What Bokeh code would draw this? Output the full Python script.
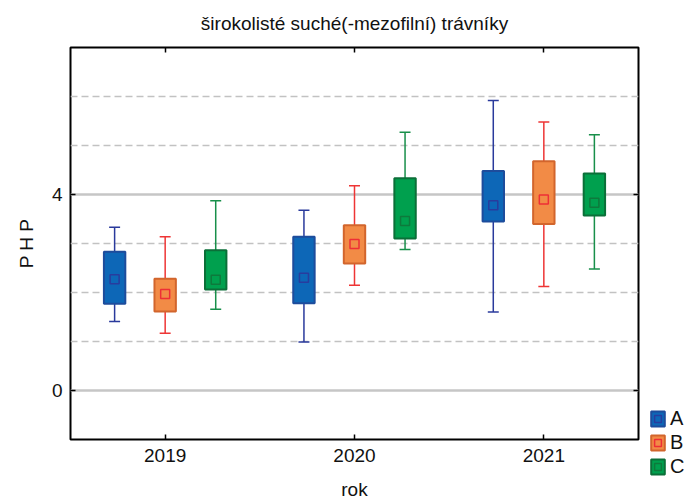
from bokeh.embed import file_html
from bokeh.layouts import row
from bokeh.models import (CategoricalAxis, ColumnDataSource, FactorRange, FixedTicker, Grid,
                          Legend, LegendItem, LinearAxis, Range1d, Title)
from bokeh.plotting import figure
from bokeh.resources import INLINE
from bokeh.transform import dodge

# --- data -----------------------------------------------------------------
years = ["2019", "2020", "2021"]
groups = ["A", "B", "C"]
y_ticks = [0, 4]
y_dashed = [1, 2, 3, 5, 6]

A_mean = [2.27, 2.30, 3.78]
A_box_low = [1.77, 1.78, 3.45]
A_box_high = [2.83, 3.14, 4.48]
A_whisk_low = [1.41, 0.99, 1.60]
A_whisk_high = [3.33, 3.68, 5.92]

B_mean = [1.97, 2.99, 3.90]
B_box_low = [1.61, 2.59, 3.40]
B_box_high = [2.28, 3.37, 4.68]
B_whisk_low = [1.17, 2.15, 2.12]
B_whisk_high = [3.14, 4.18, 5.48]

C_mean = [2.26, 3.46, 3.83]
C_box_low = [2.06, 3.10, 3.57]
C_box_high = [2.86, 4.33, 4.43]
C_whisk_low = [1.66, 2.88, 2.48]
C_whisk_high = [3.87, 5.27, 5.22]

series = {
    "A": (A_mean, A_box_low, A_box_high, A_whisk_low, A_whisk_high),
    "B": (B_mean, B_box_low, B_box_high, B_whisk_low, B_whisk_high),
    "C": (C_mean, C_box_low, C_box_high, C_whisk_low, C_whisk_high),
}

# --- styling --------------------------------------------------------------
FONT = "Liberation Sans"
TEXT = "#111111"
styles = {
    "A": dict(fill="#0d67b7", edge="#1d4c9c", whisk="#2a3a9c", mark="#283c9e"),
    "B": dict(fill="#f28b46", edge="#d2652c", whisk="#ee3535", mark="#ee2f36"),
    "C": dict(fill="#00a04e", edge="#0b6f38", whisk="#188f4a", mark="#0d7a3c"),
}
offsets = {"A": -0.267, "B": 0.0, "C": 0.267}
BOX_W = 0.113
CAP_W = 0.058

p = figure(width=647, height=502,
           x_range=FactorRange(factors=years), y_range=Range1d(-1, 7),
           output_backend="svg", toolbar_location=None,
           min_border_left=70, min_border_right=9, min_border_top=47, min_border_bottom=63,
           background_fill_color="white", border_fill_color="white")

p.title = Title(text="širokolisté suché(-mezofilní) trávníky", align="center",
                text_font=FONT, text_font_size="19px", text_font_style="normal",
                text_color=TEXT, standoff=20)

p.outline_line_color = "black"
p.outline_line_width = 2

# grid: solid lines at labelled ticks, dashed lines in between
p.xgrid.visible = False
p.ygrid.ticker = FixedTicker(ticks=y_ticks)
p.ygrid.grid_line_color = "#c6c6c6"
p.ygrid.grid_line_width = 2.5
p.add_layout(Grid(dimension=1, ticker=FixedTicker(ticks=y_dashed),
                  grid_line_color="#c2c2c2", grid_line_width=1.5, grid_line_dash="7 4"))


def style_axis(ax, labels=True):
    ax.axis_line_color = None
    ax.major_tick_in = 5
    ax.major_tick_out = 0
    ax.major_tick_line_color = "black"
    ax.major_tick_line_width = 1.5
    ax.minor_tick_line_color = None
    ax.major_label_text_font = FONT
    ax.major_label_text_color = TEXT
    ax.axis_label_text_font = FONT
    ax.axis_label_text_font_size = "19px"
    ax.axis_label_text_font_style = "normal"
    ax.axis_label_text_color = TEXT
    if labels:
        ax.major_label_text_font_size = "19px"
        ax.major_label_standoff = 8
    else:
        ax.major_label_text_font_size = "1px"
        ax.major_label_standoff = 0


p.yaxis.ticker = FixedTicker(ticks=y_ticks)
style_axis(p.yaxis[0])
p.yaxis.axis_label = "P H P"
p.yaxis.axis_label_standoff = 12

style_axis(p.xaxis[0])
p.xaxis.major_label_standoff = 9
p.xaxis.axis_label = "rok"
p.xaxis.axis_label_standoff = 14

# mirrored axes on top and right: inward ticks only
right_axis = LinearAxis(ticker=FixedTicker(ticks=y_ticks),
                        major_label_overrides={t: "" for t in y_ticks})
style_axis(right_axis, labels=False)
p.add_layout(right_axis, "right")

top_axis = CategoricalAxis(major_label_overrides={y: "" for y in years})
style_axis(top_axis, labels=False)
p.add_layout(top_axis, "above")

# narrow side panel that carries the legend
lg = figure(width=42, height=502, output_backend="svg", toolbar_location=None,
            x_axis_location=None, y_axis_location=None,
            min_border=0, outline_line_color=None,
            background_fill_color="white", border_fill_color="white")
lg.frame_align = False
lg.grid.visible = False


def box_args(st):
    return dict(fill_color=st["fill"], line_color=st["edge"], line_width=2)


def mark_args(st):
    return dict(marker="square", size=9, fill_alpha=0, line_color=st["mark"], line_width=1.5)


# --- box plots ------------------------------------------------------------
items = []
nan = float("nan")
for g in groups:
    mean, q1, q3, lo, hi = series[g]
    st = styles[g]
    off = offsets[g]
    src = ColumnDataSource(dict(year=years, mean=mean, q1=q1, q3=q3, lo=lo, hi=hi))
    xc = dodge("year", off, range=p.x_range)
    xl = dodge("year", off - CAP_W / 2, range=p.x_range)
    xr = dodge("year", off + CAP_W / 2, range=p.x_range)

    p.segment(x0=xc, y0="lo", x1=xc, y1="hi", line_color=st["whisk"], line_width=1.5, source=src)
    p.segment(x0=xl, y0="hi", x1=xr, y1="hi", line_color=st["whisk"], line_width=1.5, source=src)
    p.segment(x0=xl, y0="lo", x1=xr, y1="lo", line_color=st["whisk"], line_width=1.5, source=src)
    p.vbar(x=xc, width=BOX_W, bottom="q1", top="q3", source=src, **box_args(st))
    p.scatter(x=xc, y="mean", source=src, **mark_args(st))

    # legend swatches: glyphs with no drawable point, shown only in the legend
    key_box = lg.vbar(x=[nan], width=1, bottom=[nan], top=[nan], **box_args(st))
    key_mark = lg.scatter(x=[nan], y=[nan], **mark_args(st))
    items.append(LegendItem(label=g, renderers=[key_box, key_mark]))

legend = Legend(items=items, location=(2, 24), orientation="vertical",
                glyph_width=17, glyph_height=19, label_height=19, spacing=1,
                padding=0, margin=0, label_standoff=4,
                border_line_color=None, background_fill_alpha=0,
                label_text_font=FONT, label_text_font_size="20px",
                label_text_color=TEXT)
lg.add_layout(legend)

layout = row(p, lg, spacing=0)
open("out.html", "w").write(file_html(layout, INLINE))
